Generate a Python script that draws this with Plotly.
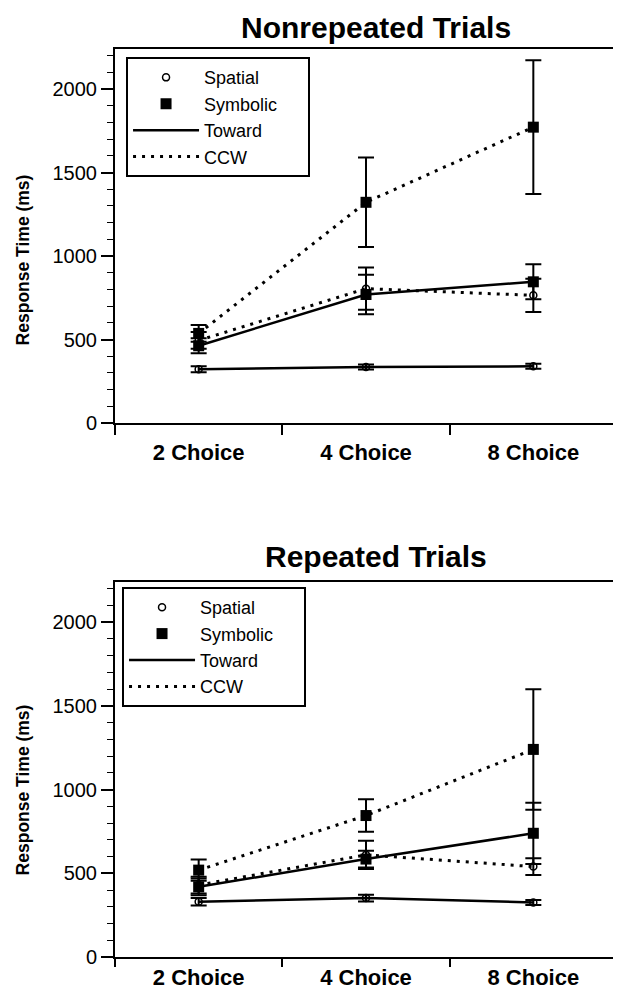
import plotly.graph_objects as go
from plotly.subplots import make_subplots

categories = ["2 Choice", "4 Choice", "8 Choice"]

# Nonrepeated trials
nr_spatial_toward = [322, 336, 340]
nr_spatial_toward_err = [18, 15, 15]
nr_spatial_ccw = [495, 805, 765]
nr_spatial_ccw_err = [50, 127, 100]
nr_symbolic_toward = [463, 770, 846]
nr_symbolic_toward_err = [45, 118, 105]
nr_symbolic_ccw = [537, 1322, 1772]
nr_symbolic_ccw_err = [50, 268, 400]

# Repeated trials
r_spatial_toward = [330, 352, 326]
r_spatial_toward_err = [22, 20, 15]
r_spatial_ccw = [430, 610, 540]
r_spatial_ccw_err = [50, 85, 50]
r_symbolic_toward = [419, 585, 739]
r_symbolic_toward_err = [50, 50, 183]
r_symbolic_ccw = [519, 845, 1240]
r_symbolic_ccw_err = [64, 97, 360]

titles = ["Nonrepeated Trials", "Repeated Trials"]
y_title = "Response Time (ms)"
legend_labels = ["Spatial", "Symbolic", "Toward", "CCW"]

FONT = "Liberation Sans, Arial, sans-serif"
DOT = "3px,6px"
NBSP = "\u00a0"

fig = make_subplots(rows=2, cols=1, vertical_spacing=0.175)

panels = [
    (1, "legend", [
        (nr_spatial_toward, nr_spatial_toward_err, "spatial", "solid"),
        (nr_spatial_ccw, nr_spatial_ccw_err, "spatial", "dot"),
        (nr_symbolic_toward, nr_symbolic_toward_err, "symbolic", "solid"),
        (nr_symbolic_ccw, nr_symbolic_ccw_err, "symbolic", "dot"),
    ]),
    (2, "legend2", [
        (r_spatial_toward, r_spatial_toward_err, "spatial", "solid"),
        (r_spatial_ccw, r_spatial_ccw_err, "spatial", "dot"),
        (r_symbolic_toward, r_symbolic_toward_err, "symbolic", "solid"),
        (r_symbolic_ccw, r_symbolic_ccw_err, "symbolic", "dot"),
    ]),
]

def marker_for(kind):
    if kind == "spatial":
        return dict(symbol="circle-open", size=7, color="black", line=dict(width=1.5, color="black"))
    return dict(symbol="square", size=11, color="black")

for row, leg, series in panels:
    for vals, errs, kind, style in series:
        fig.add_trace(go.Scatter(
            x=categories, y=vals, mode="lines+markers",
            line=dict(color="black", width=2.5 if style == "solid" else 3,
                      dash="solid" if style == "solid" else DOT),
            marker=marker_for(kind),
            error_y=dict(type="data", array=errs, visible=True, color="black",
                         thickness=2, width=8),
            showlegend=False, hoverinfo="skip",
        ), row=row, col=1)
    # legend entries
    fig.add_trace(go.Scatter(x=[None], y=[None], mode="markers", name=legend_labels[0],
                             marker=marker_for("spatial"), legend=leg), row=row, col=1)
    fig.add_trace(go.Scatter(x=[None], y=[None], mode="markers", name=legend_labels[1] + NBSP * 5,
                             marker=marker_for("symbolic"), legend=leg), row=row, col=1)
    fig.add_trace(go.Scatter(x=[None], y=[None], mode="lines", name=legend_labels[2],
                             line=dict(color="black", width=2.5), legend=leg), row=row, col=1)
    fig.add_trace(go.Scatter(x=[None], y=[None], mode="lines", name=legend_labels[3],
                             line=dict(color="black", width=3, dash=DOT), legend=leg), row=row, col=1)

xaxis_style = dict(
    type="category", categoryorder="array", categoryarray=categories,
    range=[-0.5, 2.5], tickson="boundaries", ticks="outside", ticklen=10,
    tickwidth=1.5, tickcolor="black", showline=True, linecolor="black",
    linewidth=2, mirror=True, showgrid=False, zeroline=False,
    tickfont=dict(family=FONT, size=22, color="black", weight="bold"),
)
yaxis_style = dict(
    range=[0, 2240], tickmode="linear", tick0=0, dtick=500, ticks="outside",
    ticklen=12, tickwidth=1.5, tickcolor="black", showline=True, linecolor="black",
    linewidth=2, mirror=True, showgrid=False, zeroline=False,
    tickfont=dict(family=FONT, size=20, color="black"),
    minor=dict(dtick=100, ticks="outside", ticklen=6, tickwidth=1.2, tickcolor="black", showgrid=False),
)
fig.update_xaxes(**xaxis_style)
fig.update_yaxes(**yaxis_style)
fig.update_layout(
    yaxis=dict(domain=[0.588, 1.0]),
    yaxis2=dict(domain=[0.0, 0.413]),
    xaxis=dict(ticklabelstandoff=9),
    xaxis2=dict(ticklabelstandoff=0, ticklen=8),
)

legend_style = dict(
    xanchor="left", yanchor="top", bgcolor="white", bordercolor="black",
    borderwidth=2, font=dict(family=FONT, size=18, color="black"),
    tracegroupgap=0, itemwidth=66, traceorder="normal",
)
fig.update_layout(
    legend=dict(x=0.022, y=0.991, **legend_style),
    legend2=dict(x=0.014, y=0.4075, **legend_style),
)

anns = []
for t, yp in zip(titles, [1.024, 0.4416]):
    anns.append(dict(text=t, x=0.52, y=yp, xref="paper", yref="paper", showarrow=False,
                     xanchor="center", yanchor="middle",
                     font=dict(family=FONT, size=30, color="black", weight="bold")))
for yp in [0.7676, 0.1839]:
    anns.append(dict(text=y_title, x=-0.1825, y=yp, xref="paper", yref="paper", showarrow=False,
                     textangle=-90, xanchor="center", yanchor="middle",
                     font=dict(family=FONT, size=17.5, color="black", weight="bold")))

# page body adds an 8px margin, so the figure is 8px smaller than the window
fig.update_layout(
    width=613, height=988, autosize=False,
    margin=dict(l=107, r=2, t=41, b=39),
    paper_bgcolor="white", plot_bgcolor="white",
    annotations=anns,
    font=dict(family=FONT, color="black"),
)

fig.write_html("out.html", include_plotlyjs=True)
